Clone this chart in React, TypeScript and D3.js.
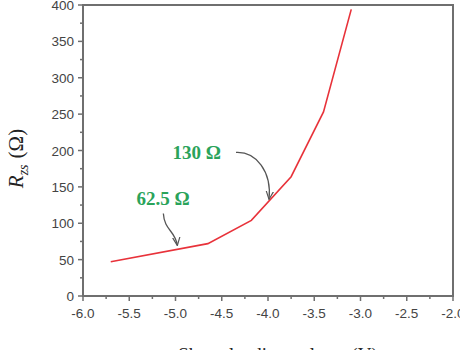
import React from "react";
import * as d3 from "d3";

const voltages = [-5.7, -4.65, -4.18, -3.75, -3.4, -3.1];
const resistances = [47, 72, 104, 164, 253, 394];
const xTicks = [-6.0, -5.5, -5.0, -4.5, -4.0, -3.5, -3.0, -2.5, -2.0];
const yTicks = [0, 50, 100, 150, 200, 250, 300, 350, 400];
const annotations = [
  { label: "130 Ω", x: -4.0, y: 130 },
  { label: "62.5 Ω", x: -4.98, y: 62.5 },
];

const W = 460, H = 350;
const L = 83, R = 453, T = 5, B = 296;

export default function App() {
  const x = d3.scaleLinear().domain([-6, -2]).range([L, R]);
  const y = d3.scaleLinear().domain([0, 400]).range([B, T]);
  const line = d3.line<number>().x((_, i) => x(voltages[i])).y((d) => y(d));
  const xMinor = d3.range(-6, -1.99, 0.25);
  const yMinor = d3.range(0, 401, 25);
  const axisColor = "#6f6f6f";

  const a130 = { tx: x(annotations[0].x), ty: y(annotations[0].y) };
  const a62 = { tx: x(annotations[1].x), ty: y(annotations[1].y) };

  return (
    <svg width={W} height={H} style={{ position: "absolute", left: 0, top: 0, background: "#fff" }}>
      <defs>
        <marker id="ah" viewBox="0 0 10 10" refX="9" refY="5" markerWidth="7" markerHeight="7" orient="auto">
          <path d="M0,1 L9,5 L0,9" fill="none" stroke="#555" strokeWidth={1.3} />
        </marker>
      </defs>
      <rect x={L} y={T} width={R - L} height={B - T} fill="none" stroke={axisColor} strokeWidth={2} />
      {xMinor.map((v, i) => (
        <line key={"xm" + i} x1={x(v)} x2={x(v)} y1={B} y2={B + (i % 2 === 0 ? 5 : 3)} stroke={axisColor} strokeWidth={1.5} />
      ))}
      {xTicks.map((v) => (
        <text key={"xt" + v} x={x(v)} y={B + 22} textAnchor="middle" fontFamily="Liberation Sans, Arial, sans-serif" fontSize={13.5} fill="#444">
          {v.toFixed(1)}
        </text>
      ))}
      {yMinor.map((v, i) => (
        <line key={"ym" + i} x1={L} x2={L - (i % 2 === 0 ? 5 : 3)} y1={y(v)} y2={y(v)} stroke={axisColor} strokeWidth={1.5} />
      ))}
      {yTicks.map((v) => (
        <text key={"yt" + v} x={L - 9} y={y(v) + 5} textAnchor="end" fontFamily="Liberation Sans, Arial, sans-serif" fontSize={13.5} fill="#444">
          {v}
        </text>
      ))}
      <path d={line(resistances) || ""} fill="none" stroke="#e8323a" strokeWidth={1.6} />
      <path
        d={`M${a130.tx - 32},${a130.ty - 49} C${a130.tx - 12},${a130.ty - 50} ${a130.tx + 4},${a130.ty - 30} ${a130.tx + 1},${a130.ty - 2}`}
        fill="none" stroke="#555" strokeWidth={1.3} markerEnd="url(#ah)"
      />
      <text x={x(-4.77)} y={y(130) - 42} textAnchor="middle" fontFamily="Liberation Serif, Times New Roman, serif" fontWeight="bold" fontSize={19} fill="#2aa35a">
        {annotations[0].label}
      </text>
      <path
        d={`M${a62.tx - 14},${a62.ty - 37} C${a62.tx - 13},${a62.ty - 20} ${a62.tx - 2},${a62.ty - 20} ${a62.tx},${a62.ty - 5}`}
        fill="none" stroke="#555" strokeWidth={1.3} markerEnd="url(#ah)"
      />
      <text x={x(-5.135)} y={y(62.5) - 46} textAnchor="middle" fontFamily="Liberation Serif, Times New Roman, serif" fontWeight="bold" fontSize={19} fill="#2aa35a">
        {annotations[1].label}
      </text>
      <text transform={`translate(23, ${(T + B) / 2 + 8}) rotate(-90)`} textAnchor="middle" fontFamily="Liberation Serif, Times New Roman, serif" fontSize={21} fill="#222">
        <tspan fontStyle="italic">R</tspan>
        <tspan fontStyle="italic" fontSize={14} dy={5}>zs</tspan>
        <tspan dy={-5} dx={6}>(Ω)</tspan>
      </text>
      <text x={(L + R) / 2 + 10} y={361} textAnchor="middle" fontFamily="Liberation Serif, Times New Roman, serif" fontSize={19} fill="#222">
        Shunt-loading voltage (V)
      </text>
    </svg>
  );
}
